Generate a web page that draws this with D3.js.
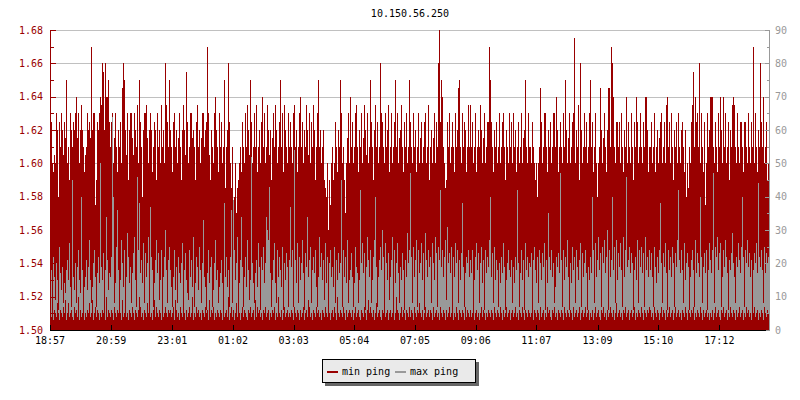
<!DOCTYPE html>
<html>
<head>
<meta charset="utf-8">
<script src="https://cdn.jsdelivr.net/npm/d3@7"></script>
<style>
html,body{margin:0;padding:0;background:#fff;}
text{font-family:"DejaVu Sans Mono",monospace;font-size:10px;}
</style>
</head>
<body>
<svg id="chart" width="800" height="400"></svg>
<script>
const title = "10.150.56.250";
const seriesNames = ["min ping", "max ping"];
const leftTicks = [1.50, 1.52, 1.54, 1.56, 1.58, 1.60, 1.62, 1.64, 1.66, 1.68];
const rightTicks = [0, 10, 20, 30, 40, 50, 60, 70, 80, 90];
const timeLabels = ["18:57","20:59","23:01","01:02","03:03","05:04","07:05","09:06","11:07","13:09","15:10","17:12"];
const timeMinutes = [0,122,244,365,486,607,728,849,970,1092,1213,1335];
const spanMinutes = 1436;

// min ping (left axis, ms), one value per sample
const minPing = [
1.62,1.625,1.6,1.595,1.605,1.6,1.63,1.62,1.58,1.625,
1.61,1.63,1.62,1.605,1.625,1.615,1.65,1.6,1.61,1.59,
1.63,1.62,1.61,1.625,1.62,1.63,1.64,1.615,1.63,1.6,
1.62,1.635,1.62,1.61,1.595,1.605,1.61,1.63,1.62,1.625,
1.615,1.67,1.62,1.63,1.63,1.575,1.59,1.625,1.62,1.63,
1.64,1.635,1.66,1.655,1.62,1.66,1.64,1.64,1.65,1.625,
1.61,1.625,1.63,1.6,1.615,1.63,1.61,1.595,1.62,1.61,
1.625,1.6,1.645,1.66,1.65,1.62,1.605,1.63,1.59,1.62,
1.63,1.63,1.615,1.605,1.63,1.62,1.61,1.635,1.6,1.65,
1.625,1.61,1.58,1.62,1.63,1.63,1.635,1.615,1.6,1.62,
1.63,1.62,1.595,1.61,1.625,1.62,1.59,1.63,1.61,1.62,
1.6,1.635,1.61,1.62,1.6,1.66,1.635,1.625,1.61,1.65,
1.62,1.61,1.595,1.625,1.63,1.61,1.62,1.6,1.615,1.63,
1.61,1.59,1.62,1.635,1.62,1.605,1.655,1.625,1.6,1.61,
1.63,1.63,1.615,1.62,1.61,1.59,1.625,1.635,1.61,1.62,
1.6,1.615,1.63,1.63,1.61,1.62,1.625,1.67,1.63,1.605,
1.59,1.62,1.61,1.6,1.63,1.64,1.62,1.61,1.595,1.63,
1.61,1.625,1.6,1.61,1.65,1.585,1.61,1.62,1.66,1.625,
1.6,1.585,1.61,1.575,1.58,1.6,1.57,1.585,1.59,1.6,
1.61,1.595,1.625,1.61,1.6,1.63,1.61,1.635,1.62,1.605,
1.65,1.625,1.6,1.61,1.63,1.61,1.635,1.595,1.61,1.62,
1.6,1.625,1.64,1.61,1.63,1.6,1.61,1.635,1.62,1.605,
1.62,1.59,1.615,1.63,1.61,1.635,1.62,1.6,1.61,1.625,
1.65,1.61,1.63,1.595,1.635,1.62,1.61,1.6,1.63,1.61,
1.625,1.61,1.6,1.63,1.635,1.61,1.62,1.595,1.61,1.63,
1.64,1.61,1.625,1.6,1.62,1.61,1.635,1.62,1.605,1.63,
1.6,1.625,1.61,1.635,1.62,1.59,1.61,1.63,1.65,1.61,
1.62,1.6,1.61,1.62,1.59,1.585,1.58,1.6,1.56,1.59,
1.575,1.6,1.61,1.59,1.6,1.625,1.61,1.595,1.62,1.61,
1.65,1.63,1.6,1.61,1.59,1.57,1.6,1.615,1.63,1.6,
1.64,1.61,1.625,1.6,1.61,1.63,1.635,1.61,1.595,1.62,
1.61,1.63,1.6,1.615,1.635,1.62,1.605,1.63,1.6,1.61,
1.65,1.625,1.61,1.59,1.62,1.635,1.61,1.625,1.6,1.61,
1.66,1.63,1.625,1.61,1.6,1.63,1.61,1.62,1.635,1.595,
1.61,1.63,1.6,1.61,1.625,1.65,1.61,1.63,1.6,1.615,
1.62,1.635,1.61,1.595,1.625,1.61,1.63,1.6,1.61,1.65,
1.625,1.61,1.6,1.63,1.61,1.62,1.595,1.61,1.63,1.6,
1.615,1.625,1.6,1.61,1.625,1.63,1.6,1.61,1.635,1.59,
1.61,1.62,1.6,1.615,1.63,1.6,1.625,1.61,1.66,1.68,
1.625,1.65,1.64,1.61,1.6,1.585,1.59,1.625,1.61,1.63,
1.6,1.61,1.625,1.61,1.595,1.63,1.61,1.62,1.645,1.65,
1.61,1.6,1.63,1.61,1.625,1.62,1.595,1.61,1.635,1.61,
1.635,1.61,1.625,1.6,1.61,1.63,1.595,1.61,1.62,1.61,
1.635,1.62,1.6,1.615,1.63,1.6,1.61,1.625,1.625,1.67,
1.65,1.625,1.61,1.595,1.62,1.61,1.625,1.6,1.61,1.63,
1.6,1.61,1.625,1.63,1.61,1.59,1.62,1.61,1.6,1.63,
1.61,1.625,1.6,1.63,1.61,1.62,1.595,1.61,1.625,1.6,
1.61,1.63,1.6,1.615,1.62,1.65,1.61,1.6,1.63,1.61,
1.61,1.6,1.625,1.61,1.6,1.59,1.6,1.58,1.6,1.61,
1.645,1.625,1.6,1.61,1.63,1.63,1.61,1.595,1.62,1.61,
1.625,1.6,1.61,1.63,1.63,1.61,1.64,1.62,1.595,1.61,
1.625,1.61,1.6,1.63,1.61,1.65,1.62,1.6,1.615,1.63,
1.6,1.61,1.625,1.63,1.675,1.6,1.62,1.61,1.635,1.59,
1.66,1.62,1.6,1.61,1.63,1.61,1.625,1.6,1.61,1.63,
1.65,1.61,1.625,1.595,1.61,1.63,1.6,1.58,1.6,1.61,
1.645,1.62,1.6,1.615,1.63,1.61,1.595,1.62,1.645,1.645,
1.61,1.67,1.66,1.64,1.61,1.6,1.625,1.625,1.61,1.625,
1.6,1.63,1.61,1.595,1.62,1.61,1.64,1.6,1.625,1.61,
1.6,1.63,1.61,1.59,1.625,1.61,1.64,1.625,1.6,1.61,
1.63,1.61,1.6,1.625,1.61,1.64,1.64,1.62,1.595,1.61,
1.61,1.625,1.6,1.61,1.63,1.595,1.61,1.62,1.6,1.615,
1.625,1.63,1.6,1.61,1.625,1.6,1.635,1.64,1.61,1.625,
1.6,1.63,1.61,1.59,1.62,1.61,1.625,1.6,1.63,1.61,
1.6,1.62,1.625,1.61,1.595,1.62,1.58,1.6,1.585,1.61,
1.6,1.625,1.635,1.655,1.61,1.64,1.625,1.63,1.61,1.66,
1.6,1.63,1.61,1.595,1.625,1.575,1.6,1.63,1.61,1.62,
1.64,1.64,1.64,1.61,1.6,1.625,1.61,1.595,1.63,1.61,
1.64,1.62,1.6,1.64,1.61,1.63,1.6,1.61,1.625,1.59,
1.62,1.61,1.635,1.64,1.635,1.61,1.6,1.63,1.61,1.6,
1.625,1.625,1.61,1.595,1.625,1.625,1.61,1.6,1.63,1.61,
1.6,1.625,1.61,1.67,1.6,1.63,1.61,1.595,1.62,1.61,
1.66,1.625,1.61,1.64,1.6,1.61,1.625,1.59,1.6,1.585
];

// max ping (right axis, ms): top of the grey bar
const maxPing = [
14,18,7,22,16,9,20,15,6,25,
17,12,19,8,14,11,18,21,15,26,
13,7,45,16,12,20,8,19,24,15,
11,40,18,6,13,16,21,12,19,27,
15,8,13,20,24,16,7,17,22,14,
50,19,15,23,6,18,34,21,12,17,
16,22,64,40,8,14,25,36,18,7,
15,27,20,13,24,6,16,29,22,14,
19,8,17,23,28,15,7,46,24,38,
17,21,14,26,8,23,16,20,28,6,
37,22,18,7,14,21,27,17,23,9,
15,24,6,16,22,30,18,8,21,25,
18,13,7,16,24,12,19,8,22,17,
14,20,26,6,18,23,15,11,9,24,
16,21,13,28,7,14,22,19,12,25,
18,8,20,33,16,13,6,17,24,14,
19,22,7,12,20,27,15,18,8,13,
17,21,14,6,38,16,22,13,18,7,
22,36,8,39,24,15,20,28,6,14,
21,34,19,7,16,22,13,27,18,9,
15,52,20,14,8,17,21,13,26,19,
6,22,18,25,14,20,34,30,27,43,
17,7,15,21,26,14,8,24,16,22,
18,13,25,6,20,15,23,19,7,21,
37,19,24,7,54,21,14,26,8,22,
15,20,27,17,6,23,19,34,16,21,
25,8,18,22,17,24,13,7,16,28,
19,23,15,21,9,26,14,22,6,20,
24,16,19,13,25,8,21,15,23,17,
20,45,7,24,16,22,14,27,8,15,
18,23,16,7,14,25,19,17,8,15,
42,20,26,17,23,6,19,28,21,16,
24,8,15,22,27,40,19,7,16,21,
25,18,30,22,6,26,20,15,23,9,
16,21,28,7,24,14,20,26,17,8,
19,15,23,18,6,21,16,29,20,24,
47,22,8,25,16,21,27,7,24,17,
20,26,15,23,6,29,21,16,24,19,
22,8,26,20,15,28,23,7,25,21,
42,19,24,16,22,27,9,31,20,23,
17,25,6,22,16,26,20,24,8,21,
15,23,38,19,7,17,22,20,24,16,
21,17,24,7,15,22,26,18,23,8,
20,25,14,21,6,24,17,22,19,27,
40,16,23,8,25,15,21,18,7,20,
14,22,17,26,19,6,15,20,24,18,
16,21,8,19,14,22,18,42,20,7,
17,24,15,21,6,26,18,22,16,20,
19,23,7,21,25,18,14,22,8,24,
20,15,23,19,26,6,21,14,35,22,
18,24,16,20,8,13,22,19,23,17,
47,21,7,24,15,22,19,27,16,6,
20,14,25,18,22,8,24,19,15,21,
26,7,23,16,20,24,17,6,19,15,
22,17,40,24,8,26,16,21,28,18,
23,7,25,20,27,17,22,30,6,24,
16,21,40,18,25,8,27,15,23,19,
26,18,7,28,16,24,46,19,21,25,
17,23,20,6,18,22,15,27,8,24,
19,25,17,23,7,28,18,22,16,24,
18,23,16,7,25,19,14,22,17,24,
38,20,8,23,19,26,17,6,24,18,
22,16,25,20,7,23,19,27,42,21,
17,24,18,8,26,15,20,23,19,6,
16,21,24,18,7,27,17,23,20,16,
40,22,8,19,23,17,24,6,18,26,
21,17,24,47,8,25,22,28,18,23,
26,7,16,24,19,27,22,17,6,21,
18,23,29,20,16,8,22,19,26,21,
17,25,40,22,7,24,20,27,19,23,
16,21,6,18,23,20,26,17,44,22,
19,24,18,8,25,17,23,20,22,19
];

// lower edge of the grey bar (right axis, ms)
const maxFloor = [
5,4,7,3,6,5,4,8,5,3,
6,5,4,7,5,9,3,5,8,4,
5,6,4,3,7,5,6,4,10,3,
6,4,5,7,3,5,4,6,5,8,
4,5,9,3,5,7,4,6,5,3,
5,4,6,5,7,3,10,4,6,5,
4,6,5,3,7,5,4,6,5,8,
5,3,9,4,5,7,4,5,3,6,
5,4,7,5,3,6,5,4,6,10,
7,4,5,3,6,5,4,8,5,6,
4,5,3,6,9,4,7,5,4,6,
5,3,6,4,5,7,5,4,6,5,
6,4,5,7,3,9,6,4,5,3,
7,5,4,6,5,3,6,4,5,7,
4,5,10,3,5,4,7,5,6,4,
5,3,6,5,4,7,5,6,3,9,
4,6,5,7,3,5,4,6,5,4,
6,5,3,7,4,5,6,4,10,3,
5,7,4,6,3,5,8,4,6,5,
3,5,7,4,6,5,4,3,6,5,
7,4,5,6,3,9,4,7,5,6,
4,5,3,6,5,7,4,5,6,3,
5,4,6,5,7,3,5,4,10,5,
4,6,3,5,7,4,5,6,4,5,
4,6,5,3,7,5,4,6,5,3,
6,4,5,7,3,5,6,4,9,7,
4,5,3,6,5,4,7,5,6,4,
5,3,6,5,4,7,5,4,6,5,
3,5,6,4,7,5,3,10,5,4,
6,5,4,7,5,3,6,4,5,6,
5,4,6,3,5,7,4,5,6,4,
3,6,5,4,7,5,3,6,9,5,
7,5,4,6,3,5,8,4,5,6,
4,3,6,5,7,4,5,6,3,5,
6,4,5,7,3,5,10,6,5,3,
5,7,4,6,5,3,6,5,4,7,
4,6,5,3,7,5,4,6,5,8,
5,4,6,3,5,7,4,5,6,4,
6,5,3,7,4,5,6,4,5,3,
7,5,4,6,5,3,6,4,5,7,
4,5,6,3,5,4,7,5,3,6,
5,4,6,5,3,7,4,6,5,4,
6,4,5,7,3,5,6,4,5,3,
5,7,4,6,5,3,5,4,6,5,
4,6,5,3,7,5,4,6,5,4,
7,5,3,6,4,5,7,4,5,6,
3,5,6,4,5,7,4,5,3,6,
5,4,7,5,3,6,5,4,6,5,
4,5,7,3,6,5,4,6,5,3,
7,4,5,6,3,5,4,7,5,6,
4,3,6,5,7,4,5,3,6,5,
4,6,5,3,7,5,4,6,5,4,
6,5,3,7,4,5,6,4,5,7,
3,5,6,4,5,7,4,5,6,3,
5,4,6,3,5,7,4,5,6,4,
3,6,5,7,4,5,3,6,4,5,
7,5,4,6,3,5,8,4,5,6,
4,5,3,6,5,7,4,5,6,3,
5,6,4,5,7,3,5,4,6,5,
4,7,5,3,6,5,4,6,5,7,
6,4,5,3,7,5,4,6,5,3,
5,7,4,6,5,3,6,4,5,7,
4,5,6,3,5,7,4,5,6,4,
5,3,6,5,4,7,5,3,6,5,
4,6,5,7,3,5,4,6,5,4,
7,5,3,6,4,5,6,4,5,3,
5,4,6,3,5,7,4,5,6,4,
3,6,5,7,4,5,6,3,5,4,
7,5,4,6,5,3,6,4,5,7,
4,5,6,3,5,4,7,5,6,4,
5,3,6,5,7,4,5,6,3,5,
4,6,5,3,7,5,4,6,5,4
];

const RED = "#990000", GREY = "#999999";
const svg = d3.select("#chart");
const L = 50, R = 770, T = 30, B = 330;
const n = minPing.length;

const xBand = d3.scaleBand().domain(d3.range(n)).range([L, R]).padding(0);
const xTime = d3.scaleLinear().domain([0, spanMinutes]).range([L, R]);
const yL = d3.scaleLinear().domain([1.50, 1.68]).range([B, T]);
const yR = d3.scaleLinear().domain([0, 90]).range([B, T]);

// title
svg.append("text").attr("x", (L + R) / 2).attr("y", 17).attr("text-anchor", "middle")
  .attr("fill", "#000").text(title);

// grid
svg.append("g").selectAll("line").data(leftTicks.slice(1)).join("line")
  .attr("x1", L).attr("x2", R - 4)
  .attr("y1", d => Math.round(yL(d)) + 0.5).attr("y2", d => Math.round(yL(d)) + 0.5)
  .attr("stroke", "#c0c0c0").attr("stroke-width", 1);

// bars
const gBars = svg.append("g").attr("shape-rendering", "crispEdges");
gBars.selectAll("rect.min").data(minPing).join("rect").attr("class", "min")
  .attr("x", (d, i) => xBand(i)).attr("width", xBand.bandwidth())
  .attr("y", d => yL(d)).attr("height", d => B - yL(d)).attr("fill", RED);
gBars.selectAll("rect.max").data(maxPing).join("rect").attr("class", "max")
  .attr("x", (d, i) => xBand(i)).attr("width", xBand.bandwidth())
  .attr("y", d => yR(d)).attr("height", (d, i) => Math.max(0, yR(maxFloor[i]) - yR(d)))
  .attr("fill", GREY);

// left axis (with minor ticks)
const gL = svg.append("g").attr("shape-rendering", "crispEdges");
gL.append("line").attr("x1", L + 0.5).attr("x2", L + 0.5).attr("y1", T).attr("y2", B)
  .attr("stroke", RED);
const leftMinor = d3.range(leftTicks.length - 1).map(i => (leftTicks[i] + leftTicks[i + 1]) / 2);
gL.selectAll("line.maj").data(leftTicks).join("line").attr("class", "maj")
  .attr("x1", L).attr("x2", L + 6)
  .attr("y1", d => Math.round(yL(d)) + 0.5).attr("y2", d => Math.round(yL(d)) + 0.5).attr("stroke", RED);
gL.selectAll("line.min").data(leftMinor).join("line").attr("class", "min")
  .attr("x1", L).attr("x2", L + 4)
  .attr("y1", d => Math.round(yL(d)) + 0.5).attr("y2", d => Math.round(yL(d)) + 0.5).attr("stroke", RED);
svg.append("g").selectAll("text").data(leftTicks).join("text")
  .attr("x", 43).attr("y", d => yL(d)).attr("dy", "0.35em").attr("text-anchor", "end")
  .attr("fill", RED).text(d => d3.format(".2f")(d));

// right axis
const gR = svg.append("g").attr("shape-rendering", "crispEdges");
gR.append("line").attr("x1", R - 0.5).attr("x2", R - 0.5).attr("y1", T).attr("y2", B)
  .attr("stroke", GREY);
const rightMinor = d3.range(rightTicks.length - 1).map(i => (rightTicks[i] + rightTicks[i + 1]) / 2);
gR.selectAll("line.maj").data(rightTicks).join("line").attr("class", "maj")
  .attr("x1", R - 5).attr("x2", R)
  .attr("y1", d => Math.round(yR(d)) + 0.5).attr("y2", d => Math.round(yR(d)) + 0.5).attr("stroke", GREY);
gR.selectAll("line.min").data(rightMinor).join("line").attr("class", "min")
  .attr("x1", R - 3).attr("x2", R)
  .attr("y1", d => Math.round(yR(d)) + 0.5).attr("y2", d => Math.round(yR(d)) + 0.5).attr("stroke", GREY);
svg.append("g").selectAll("text").data(rightTicks).join("text")
  .attr("x", 775).attr("y", d => yR(d)).attr("dy", "0.35em").attr("text-anchor", "start")
  .attr("fill", GREY).text(d => d);

// bottom axis
const gB = svg.append("g").attr("shape-rendering", "crispEdges");
gB.append("line").attr("x1", L).attr("x2", R - 4).attr("y1", B + 0.5).attr("y2", B + 0.5).attr("stroke", "#000");
gB.selectAll("line.t").data(timeMinutes).join("line").attr("class", "t")
  .attr("x1", d => Math.round(xTime(d)) + 0.5).attr("x2", d => Math.round(xTime(d)) + 0.5)
  .attr("y1", B - 5).attr("y2", B).attr("stroke", "#000");
svg.append("g").selectAll("text").data(timeMinutes).join("text")
  .attr("x", d => xTime(d)).attr("y", 344).attr("text-anchor", "middle")
  .attr("fill", "#000").text((d, i) => timeLabels[i]);

// legend
const lg = svg.append("g").attr("shape-rendering", "crispEdges");
lg.append("rect").attr("x", 325).attr("y", 362).attr("width", 154).attr("height", 24).attr("fill", "#666");
lg.append("rect").attr("x", 322.5).attr("y", 359.5).attr("width", 153).attr("height", 23)
  .attr("fill", "#eaeaea").attr("stroke", "#000");
const items = [{name: seriesNames[0], color: RED, x: 327}, {name: seriesNames[1], color: GREY, x: 395}];
items.forEach(it => {
  lg.append("rect").attr("x", it.x).attr("y", 371).attr("width", 11).attr("height", 2).attr("fill", it.color);
  svg.append("text").attr("x", it.x + 15).attr("y", 375).attr("fill", "#000").text(it.name);
});
</script>
</body>
</html>
